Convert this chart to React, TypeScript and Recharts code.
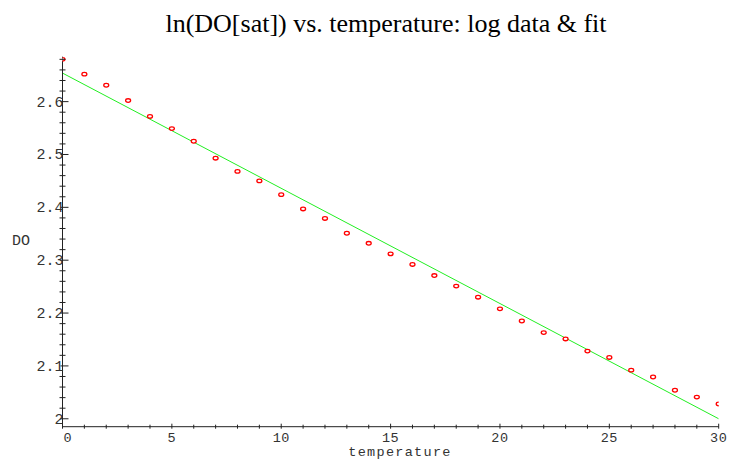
import { ComposedChart, Scatter, Line, XAxis, YAxis } from 'recharts';

// temperature (deg C) and ln of saturated dissolved oxygen
const temps = [
  0, 1, 2, 3, 4, 5, 6, 7, 8, 9, 10, 11, 12, 13, 14, 15, 16, 17, 18, 19, 20,
  21, 22, 23, 24, 25, 26, 27, 28, 29, 30,
];
const lnDO = [
  2.68, 2.652, 2.631, 2.602, 2.572, 2.549, 2.525, 2.493, 2.468, 2.45, 2.424,
  2.397, 2.379, 2.351, 2.332, 2.312, 2.292, 2.271, 2.251, 2.23, 2.208, 2.185,
  2.163, 2.151, 2.128, 2.116, 2.092, 2.079, 2.054, 2.041, 2.028,
];

// end points of the fitted line
const fitX = [0, 30];
const fitY = [2.654, 2.0];

const xTicks = temps;
const xLabels = [0, 5, 10, 15, 20, 25, 30];
const yTicks = [
  2.0, 2.02, 2.04, 2.06, 2.08, 2.1, 2.12, 2.14, 2.16, 2.18, 2.2, 2.22, 2.24,
  2.26, 2.28, 2.3, 2.32, 2.34, 2.36, 2.38, 2.4, 2.42, 2.44, 2.46, 2.48, 2.5,
  2.52, 2.54, 2.56, 2.58, 2.6, 2.62, 2.64, 2.66, 2.68,
];
const yLabels = ['2', '2.1', '2.2', '2.3', '2.4', '2.5', '2.6'];

const points = temps.map((t, i) => ({ x: t, y: lnDO[i] }));
const fit = fitX.map((t, i) => ({ x: t, y: fitY[i] }));

const AXIS = '#222';
const MONO = '"Liberation Mono", "DejaVu Sans Mono", monospace';

function XTick(props: any) {
  const { x, y, payload } = props;
  const v = payload.value;
  const major = xLabels.includes(v);
  return (
    <g>
      <line x1={x} x2={x} y1={y - (major ? 3 : 2)} y2={y + 2} stroke={AXIS} />
      {major && (
        <text
          x={v === 0 ? x + 1 : x}
          y={y + 15}
          textAnchor={v === 0 ? 'start' : 'middle'}
          fontFamily={MONO}
          fontSize={13.5}
          letterSpacing={0.5}
          fill="#333"
        >
          {v}
        </text>
      )}
    </g>
  );
}

function YTick(props: any) {
  const { x, y, payload } = props;
  const v = Number(payload.value);
  const label = yLabels.find((l) => Math.abs(Number(l) - v) < 1e-6);
  return (
    <g>
      <line
        x1={x - (label ? 2 : 3)}
        x2={x + (label ? 6 : 3)}
        y1={y}
        y2={y}
        stroke={AXIS}
      />
      {label && (
        <text
          x={x + 1}
          y={y + 5}
          textAnchor="end"
          fontFamily={MONO}
          fontSize={15}
          fill="#333"
        >
          {label}
        </text>
      )}
    </g>
  );
}

function Dot(props: any) {
  const { cx, cy } = props;
  return (
    <ellipse cx={cx} cy={cy} rx={2.5} ry={1.8} fill="#fff" stroke="#ff0000" strokeWidth={1.3} />
  );
}

export default function App() {
  return (
    <div style={{ position: 'absolute', left: 0, top: 0, width: 731, height: 460, background: '#fff' }}>
      <svg
        width={731}
        height={460}
        style={{ position: 'absolute', left: 0, top: 0, pointerEvents: 'none' }}
      >
        <text
          x={386}
          y={32}
          textAnchor="middle"
          fontFamily='"Liberation Serif", "Times New Roman", serif'
          fontSize={26}
          fill="#000"
        >
          ln(DO[sat]) vs. temperature: log data &amp; fit
        </text>
        <text x={12} y={245} fontFamily={MONO} fontSize={15} fill="#333">
          DO
        </text>
        <text
          x={400}
          y={455.5}
          textAnchor="middle"
          fontFamily={MONO}
          fontSize={13.5}
          letterSpacing={1.3}
          fill="#333"
        >
          temperature
        </text>
      </svg>
      <div style={{ position: 'absolute', left: 0, top: 0 }}>
        <ComposedChart
          width={731}
          height={460}
          margin={{ top: 56.7, right: 12.3, bottom: 13.3, left: 2 }}
        >
          <XAxis
            type="number"
            dataKey="x"
            domain={[0, 30]}
            ticks={xTicks}
            interval={0}
            tick={<XTick />}
            tickLine={false}
            tickSize={0}
            tickMargin={0}
            height={20}
            axisLine={{ stroke: AXIS }}
            allowDataOverflow
          />
          <YAxis
            type="number"
            dataKey="y"
            domain={[1.985, 2.685]}
            ticks={yTicks}
            interval={0}
            tick={<YTick />}
            tickLine={false}
            tickSize={0}
            tickMargin={0}
            width={60.5}
            axisLine={{ stroke: AXIS }}
            allowDataOverflow
          />
          <Line
            data={fit}
            dataKey="y"
            stroke="#22ee22"
            strokeWidth={1}
            dot={false}
            isAnimationActive={false}
          />
          <Scatter data={points} dataKey="y" shape={<Dot />} isAnimationActive={false} />
        </ComposedChart>
      </div>
    </div>
  );
}
